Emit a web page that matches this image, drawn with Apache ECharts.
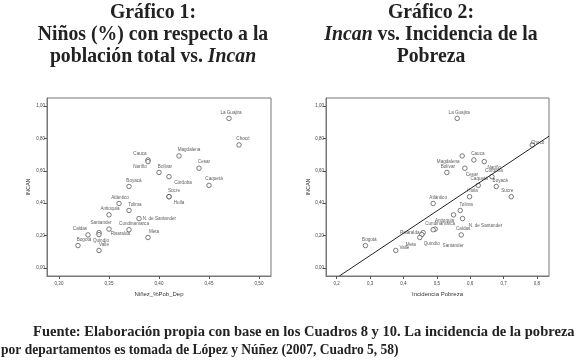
<!DOCTYPE html>
<html>
<head>
<meta charset="utf-8">
<script src="https://cdn.jsdelivr.net/npm/echarts@6/dist/echarts.min.js"></script>
<style>
  html, body { margin: 0; padding: 0; background: #fff; }
  #chart { width: 577px; height: 364px; }
</style>
</head>
<body>
<div id="chart"></div>
<script>
(function(){
  // departamentos, same order in every array
  const departamentos = ['La Guajira', 'Chocó', 'Magdalena', 'Cauca', 'Nariño', 'Cesar', 'Bolívar', 'Córdoba',
    'Caquetá', 'Boyacá', 'Sucre', 'Huila', 'Atlántico', 'Tolima', 'Antioquia', 'N. de Santander',
    'Santander', 'Cundinamarca', 'Risaralda', 'Quindío', 'Caldas', 'Meta', 'Bogotá', 'Valle'];
  const incan = [0.924, 0.760, 0.692, 0.667, 0.657, 0.616, 0.590, 0.564,
    0.510, 0.503, 0.440, 0.440, 0.398, 0.355, 0.328, 0.305,
    0.240, 0.236, 0.218, 0.206, 0.204, 0.188, 0.138, 0.108];
  const ninezPobDep = [0.470, 0.480, 0.420, 0.389, 0.389, 0.440, 0.400, 0.410,
    0.450, 0.370, 0.410, 0.410, 0.360, 0.370, 0.350, 0.380,
    0.350, 0.370, 0.340, 0.340, 0.329, 0.389, 0.319, 0.340];
  const incidenciaPobreza = [0.561, 0.786, 0.576, 0.611, 0.642, 0.584, 0.530, 0.665,
    0.624, 0.678, 0.723, 0.598, 0.489, 0.570, 0.550, 0.577,
    0.495, 0.489, 0.459, 0.455, 0.573, 0.449, 0.286, 0.377];
  // recta de ajuste (chart 2), ends
  const fitLine = [[0.208, -0.05], [0.836, 0.814]];
  const yTicks = [0, 0.2, 0.4, 0.6, 0.8, 1.0];
  const xTicks1 = [0.30, 0.35, 0.40, 0.45, 0.50];
  const xTicks2 = [0.2, 0.3, 0.4, 0.5, 0.6, 0.7, 0.8];

  // label placement per point: [position, dx, dy]
  const place1 = {
    'La Guajira': ['top', 2, 0], 'Chocó': ['top', 4, 0], 'Magdalena': ['top', 10, 0],
    'Cauca': ['top', -8, 0], 'Nariño': ['bottom', -8, -1], 'Cesar': ['top', 5, 0],
    'Bolívar': ['top', 6, 0], 'Córdoba': ['bottom', 14, 0], 'Caquetá': ['top', 5, 0],
    'Boyacá': ['top', 5, 0], 'Sucre': ['top', 5, 0], 'Huila': ['bottom', 10, 0],
    'Atlántico': ['top', 1, 0], 'Tolima': ['top', 6, 0], 'Antioquia': ['top', 1, 0],
    'N. de Santander': ['right', 0, 0], 'Santander': ['top', -8, 0], 'Cundinamarca': ['top', 5, 0],
    'Risaralda': ['right', 8, 1], 'Quindío': ['bottom', 2, 0], 'Caldas': ['top', -8, 0],
    'Meta': ['top', 6, 0], 'Bogotá': ['top', 6, 0], 'Valle': ['top', 5, 0]
  };
  const place2 = {
    'La Guajira': ['top', 2, 0], 'Chocó': ['right', -5, -2], 'Magdalena': ['bottom', -14, 0],
    'Cauca': ['top', 4, 0], 'Nariño': ['bottom', 10, 0], 'Cesar': ['bottom', 7, 0],
    'Bolívar': ['top', 1, 0], 'Córdoba': ['top', 2, 0], 'Caquetá': ['top', 1, 0],
    'Boyacá': ['top', 4, 0], 'Sucre': ['top', -4, 0], 'Huila': ['top', 3, 0],
    'Atlántico': ['top', 5, 0], 'Tolima': ['top', 6, 0], 'Antioquia': ['bottom', -9, 0],
    'N. de Santander': ['bottom', 23, 1], 'Santander': ['bottom', 18, 11], 'Cundinamarca': ['top', 7, 0],
    'Risaralda': ['left', 0, 0], 'Quindío': ['bottom', 10, 3], 'Caldas': ['top', 2, 0],
    'Meta': ['bottom', -9, 1], 'Bogotá': ['top', 4, 0], 'Valle': ['right', 0, -3]
  };

  const labelFont = 'Liberation Sans, Arial, sans-serif';
  const serif = 'Liberation Serif, Times New Roman, serif';
  const ink = '#222';

  function points(xs, place){
    return departamentos.map((name, i) => {
      const p = place[name];
      return {
        name: name,
        value: [xs[i], incan[i]],
        label: { position: p[0], offset: [p[1], p[2]] }
      };
    });
  }

  function comma(d){ return v => v.toFixed(d).replace('.', ','); }

  function xAxis(idx, min, max, ticks, digits, name){
    return {
      gridIndex: idx, type: 'value', min: min, max: max,
      name: name, nameLocation: 'middle', nameGap: 15,
      nameTextStyle: { fontSize: 6, color: '#333', fontFamily: labelFont },
      axisLine: { show: true, onZero: false, lineStyle: { color: '#777', width: 1 } },
      axisTick: { show: true, length: 3, customValues: ticks, lineStyle: { color: '#555' } },
      axisLabel: { fontSize: 4.5, color: '#444', margin: 5, customValues: ticks, formatter: comma(digits), fontFamily: labelFont },
      splitLine: { show: false }
    };
  }

  function yAxis(idx, gap){
    return {
      gridIndex: idx, type: 'value', min: -0.05, max: 1.05,
      name: 'INCAN', nameLocation: 'middle', nameGap: gap,
      nameTextStyle: { fontSize: 5.5, color: '#333', fontFamily: labelFont },
      axisLine: { show: true, onZero: false, lineStyle: { color: '#777', width: 1 } },
      axisTick: { show: true, length: 3, customValues: yTicks, lineStyle: { color: '#555' } },
      axisLabel: { fontSize: 4.5, color: '#444', margin: 2, customValues: yTicks, formatter: comma(2), fontFamily: labelFont },
      splitLine: { show: false }
    };
  }

  function scatter(idx, data){
    return {
      type: 'scatter', xAxisIndex: idx, yAxisIndex: idx,
      data: data, symbol: 'circle', symbolSize: 4.5,
      itemStyle: { color: '#fff', borderColor: '#333', borderWidth: 0.8 },
      label: { show: true, formatter: '{b}', fontSize: 4.6, color: '#333', distance: 1, fontFamily: labelFont },
      emphasis: { disabled: true },
      animation: false
    };
  }

  const titleRich = {
    b: { fontFamily: serif, fontWeight: 'bold', fontSize: 21, lineHeight: 22, fill: ink },
    i: { fontFamily: serif, fontWeight: 'bold', fontStyle: 'italic', fontSize: 21, lineHeight: 22, fill: ink }
  };

  const chart = echarts.init(document.getElementById('chart'), null, { renderer: 'canvas' });
  chart.setOption({
    backgroundColor: '#fff',
    animation: false,
    grid: [
      { left: 47, top: 98, width: 224, height: 178, show: true, borderColor: '#777', borderWidth: 1, backgroundColor: '#fff' },
      { left: 326, top: 98, width: 223, height: 178, show: true, borderColor: '#777', borderWidth: 1, backgroundColor: '#fff' }
    ],
    xAxis: [
      xAxis(0, 0.288, 0.512, xTicks1, 2, 'Niñez_%Pob_Dep'),
      xAxis(1, 0.168, 0.836, xTicks2, 1, 'Incidencia Pobreza')
    ],
    yAxis: [yAxis(0, 16), yAxis(1, 14)],
    series: [
      scatter(0, points(ninezPobDep, place1)),
      scatter(1, points(incidenciaPobreza, place2)),
      {
        type: 'line', xAxisIndex: 1, yAxisIndex: 1, data: fitLine,
        symbol: 'none', lineStyle: { color: '#222', width: 1 }, silent: true
      }
    ],
    graphic: [
      {
        type: 'text', x: 153, y: 2, scaleX: 0.94,
        style: {
          text: '{b|Gráfico 1:}\n{b|Niños (%) con respecto a la}\n{b|población total vs. }{i|Incan}',
          align: 'center', verticalAlign: 'top', rich: titleRich
        }
      },
      {
        type: 'text', x: 431, y: 2, scaleX: 0.94,
        style: {
          text: '{b|Gráfico 2:}\n{i|Incan}{b| vs. Incidencia de la}\n{b|Pobreza}',
          align: 'center', verticalAlign: 'top', rich: titleRich
        }
      },
      {
        type: 'text', x: 33, y: 325, scaleX: 0.97,
        style: {
          text: 'Fuente: Elaboración propia con base en los Cuadros 8 y 10. La incidencia de la pobreza',
          font: 'bold 15px ' + serif, fill: ink
        }
      },
      {
        type: 'text', x: 1, y: 343, scaleX: 0.9,
        style: {
          text: 'por departamentos es tomada de López y Núñez (2007, Cuadro 5, 58)',
          font: 'bold 15px ' + serif, fill: ink
        }
      }
    ]
  });
})();
</script>
</body>
</html>
